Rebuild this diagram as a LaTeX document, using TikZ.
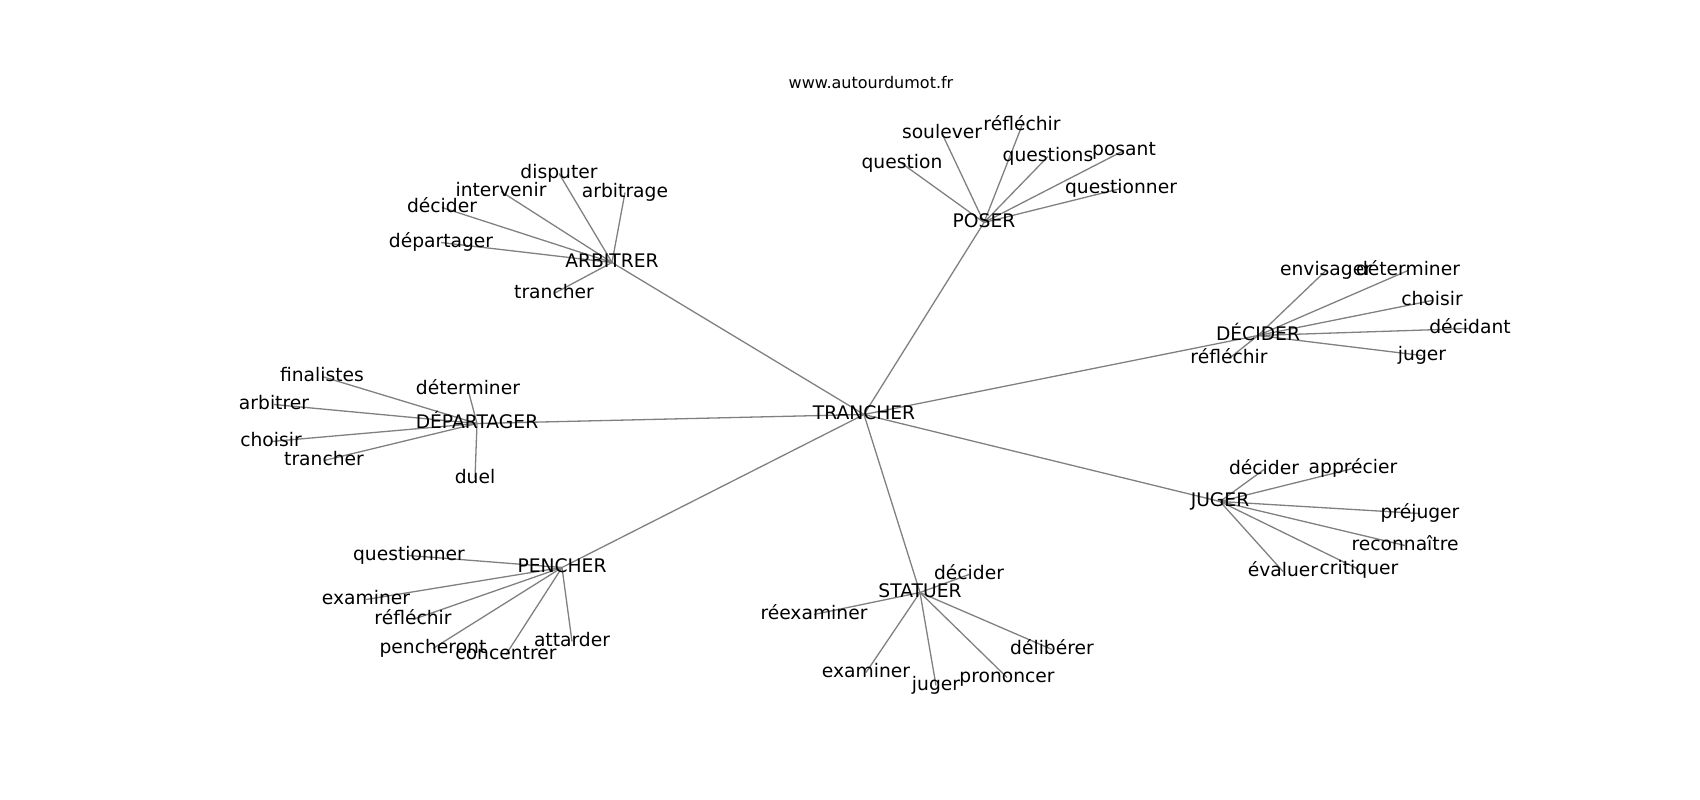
\documentclass[tikz,border=0pt]{standalone}
\usepackage{fontspec}
\setmainfont{DejaVu Sans}
\usetikzlibrary{backgrounds}
\begin{document}
\begin{tikzpicture}[x=1pt,y=-1pt,
  lbl/.style={inner sep=0pt,yshift=-2.5pt,text height=14.2pt,text depth=4.4pt,font=\fontsize{18.7}{22}\selectfont,text=black},
  ttl/.style={inner sep=0pt,font=\fontsize{16}{19}\selectfont,text=black},
  edge/.style={draw=black!50,line width=1.3pt}]
\useasboundingbox (0,0) rectangle (1700,800);
\node[ttl] (title) at (871,83) {www.autourdumot.fr};
% hubs
\node[lbl] (T) at (864,412) {TRANCHER};
\node[lbl] (A) at (612,260) {ARBITRER};
\node[lbl] (P) at (984,220) {POSER};
\node[lbl] (D) at (1258,333) {DÉCIDER};
\node[lbl] (DP) at (477,421) {DÉPARTAGER};
\node[lbl] (J) at (1220,499) {JUGER};
\node[lbl] (PE) at (562,565) {PENCHER};
\node[lbl] (S) at (920,590) {STATUER};
% ARBITRER
\node[lbl] (a1) at (559,171) {disputer};
\node[lbl] (a2) at (501,189) {intervenir};
\node[lbl] (a3) at (625,190) {arbitrage};
\node[lbl] (a4) at (442,205) {décider};
\node[lbl] (a5) at (441,240) {départager};
\node[lbl] (a6) at (554,291) {trancher};
% POSER
\node[lbl] (p1) at (902,161) {question};
\node[lbl] (p2) at (942,131) {soulever};
\node[lbl] (p3) at (1022,123) {réfléchir};
\node[lbl] (p4) at (1048,154) {questions};
\node[lbl] (p5) at (1124,148) {posant};
\node[lbl] (p6) at (1121,186) {questionner};
% DECIDER
\node[lbl] (d1) at (1326,268) {envisager};
\node[lbl] (d2) at (1408,268) {déterminer};
\node[lbl] (d3) at (1432,298) {choisir};
\node[lbl] (d4) at (1470,326) {décidant};
\node[lbl] (d5) at (1422,353) {juger};
\node[lbl] (d6) at (1229,356) {réfléchir};
% DEPARTAGER
\node[lbl] (e1) at (322,374) {finalistes};
\node[lbl] (e2) at (468,387) {déterminer};
\node[lbl] (e3) at (274,402) {arbitrer};
\node[lbl] (e4) at (271,439) {choisir};
\node[lbl] (e5) at (324,458) {trancher};
\node[lbl] (e6) at (475,476) {duel};
% JUGER
\node[lbl] (j1) at (1264,467) {décider};
\node[lbl] (j2) at (1353,466) {apprécier};
\node[lbl] (j3) at (1420,511) {préjuger};
\node[lbl] (j4) at (1405,543) {reconnaître};
\node[lbl] (j5) at (1283,569) {évaluer};
\node[lbl] (j6) at (1359,567) {critiquer};
% PENCHER
\node[lbl] (n1) at (409,553) {questionner};
\node[lbl] (n2) at (366,597) {examiner};
\node[lbl] (n3) at (413,617) {réfléchir};
\node[lbl] (n4) at (433,646) {pencheront};
\node[lbl] (n5) at (506,652) {concentrer};
\node[lbl] (n6) at (572,639) {attarder};
% STATUER
\node[lbl] (s1) at (969,572) {décider};
\node[lbl] (s2) at (814,612) {réexaminer};
\node[lbl] (s3) at (1052,647) {délibérer};
\node[lbl] (s4) at (866,670) {examiner};
\node[lbl] (s5) at (936,683) {juger};
\node[lbl] (s6) at (1007,675) {prononcer};
\begin{scope}[on background layer]
\foreach \h in {A,P,D,DP,J,PE,S} \draw[edge] (T.center) -- (\h.center);
\foreach \l in {a1,a2,a3,a4,a5,a6} \draw[edge] (A.center) -- (\l.center);
\foreach \l in {p1,p2,p3,p4,p5,p6} \draw[edge] (P.center) -- (\l.center);
\foreach \l in {d1,d2,d3,d4,d5,d6} \draw[edge] (D.center) -- (\l.center);
\foreach \l in {e1,e2,e3,e4,e5,e6} \draw[edge] (DP.center) -- (\l.center);
\foreach \l in {j1,j2,j3,j4,j5,j6} \draw[edge] (J.center) -- (\l.center);
\foreach \l in {n1,n2,n3,n4,n5,n6} \draw[edge] (PE.center) -- (\l.center);
\foreach \l in {s1,s2,s3,s4,s5,s6} \draw[edge] (S.center) -- (\l.center);
\end{scope}
\end{tikzpicture}
\end{document}
